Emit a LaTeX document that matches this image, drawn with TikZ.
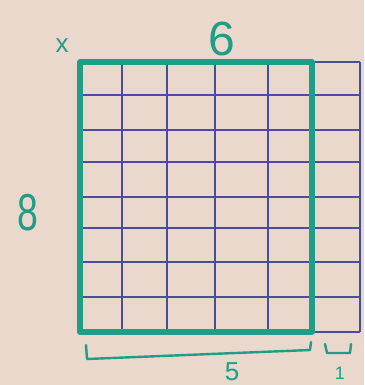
\documentclass[tikz,border=0pt]{standalone}
\usepackage{fontspec}
\setmainfont{Liberation Sans}
\definecolor{paper}{HTML}{E9D8CB}
\definecolor{teal2}{HTML}{1E9E86}
\definecolor{ink}{HTML}{4A4C9E}
\tikzset{
  gridline/.style={ink, line width=2.2pt},
  bold/.style={teal2, line width=5.5pt, line join=round},
  lbl/.style={teal2, inner sep=0pt},
  brace/.style={teal2, line width=2.4pt, line cap=round, line join=round}
}
\begin{document}
\begin{tikzpicture}[x=1pt,y=-1pt]
\fill[paper] (0,0) rectangle (364,385);
\useasboundingbox (0,0) rectangle (364,385);
% vertical grid lines
\foreach \xx in {122,167,215,268,360}
  \draw[gridline] (\xx,62) -- (\xx,332);
% horizontal grid lines
\foreach \yy in {62,95,130,162,197,228,262,297,332}
  \draw[gridline] (80,\yy) -- (360,\yy);
% teal rectangle (5 x 8)
\draw[bold] (80,62) rectangle (312,332);
% labels
\node[lbl, font=\fontsize{52}{52}\selectfont, xscale=0.72] (eight) at (28,213) {8};
\node[lbl, font=\fontsize{48}{48}\selectfont] (six) at (222,39) {6};
\node[lbl, font=\fontsize{26}{26}\selectfont] (ex) at (62,46) {x};
\node[lbl, font=\fontsize{26}{26}\selectfont] (five) at (232,372) {5};
\node[lbl, font=\fontsize{18}{18}\selectfont] (one) at (340,373) {1};
% braces
\coordinate (b1a) at (86,345);
\coordinate (b1b) at (87,359);
\coordinate (b1c) at (310,350);
\coordinate (b1d) at (311,342);
\draw[brace] (b1a) -- (b1b) -- (b1c) -- (b1d);
\coordinate (b2a) at (325,344);
\coordinate (b2b) at (327,353);
\coordinate (b2c) at (350,353);
\coordinate (b2d) at (351,344);
\draw[brace] (b2a) -- (b2b) -- (b2c) -- (b2d);
\end{tikzpicture}
\end{document}
